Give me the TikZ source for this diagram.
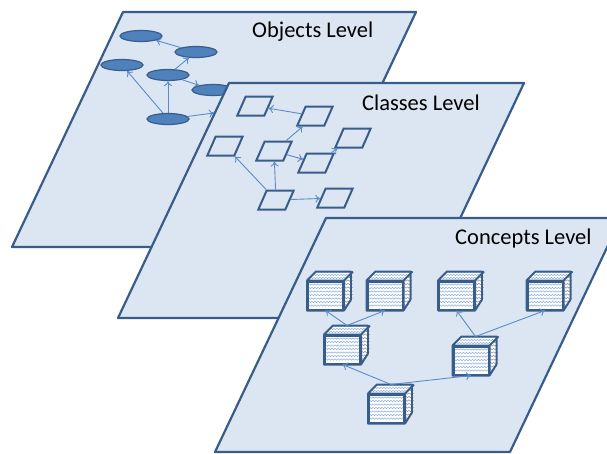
\documentclass[tikz,border=0pt]{standalone}
\usepackage{fontspec}
\setmainfont{Carlito}
\usetikzlibrary{shapes.geometric,arrows.meta,decorations.pathmorphing}
\definecolor{planefill}{HTML}{DCE6F2}
\definecolor{edgeblue}{HTML}{385D8A}
\definecolor{nodeblue}{HTML}{4F81BD}
\definecolor{linkblue}{HTML}{5B8BC9}
\definecolor{waveblue}{HTML}{8DB0DE}
\definecolor{wavegrey}{HTML}{8A96A3}

\begin{document}
\begin{tikzpicture}[x=1pt,y=-1pt,
plane/.style={draw=edgeblue,fill=planefill,line width=2.2pt,line join=round},
obj/.style={ellipse,draw=edgeblue,fill=nodeblue,line width=1.2pt,minimum width=42pt,minimum height=11pt,inner sep=0pt},
cls/.style={rectangle,xslant=0.44,transform shape,draw=edgeblue,fill=planefill,line width=2pt,minimum width=27pt,minimum height=19pt,inner sep=0pt},
wave/.style={line width=0.5pt,decorate,decoration={snake,amplitude=0.7pt,segment length=3pt}},
cube/.style={rectangle,draw=edgeblue,fill=white,line width=2pt,minimum width=35pt,minimum height=28pt,inner sep=0pt,
  path picture={\foreach \j in {1,...,7}
    \draw[wave,waveblue] ([yshift=-\j*3.5pt+0.5pt]path picture bounding box.north west) -- ([yshift=-\j*3.5pt+0.5pt]path picture bounding box.north east);}},
link/.style={-{To[length=5pt,width=8pt]},draw=linkblue,line width=0.9pt},
level/.style={font=\fontsize{22.5}{27}\selectfont,anchor=base west,inner sep=0pt}]
\clip (0,0) rectangle (607,453);

\draw[plane] (123,12) -- (416,12) -- (305,247) -- (12,247) -- cycle;
\node[level] (objlabel) at (252,37) {Objects Level};
\node[obj] (O1) at (141,36) {};
\node[obj] (O2) at (196,52) {};
\node[obj] (O3) at (122,65) {};
\node[obj] (O4) at (168,75) {};
\node[obj] (O5) at (213,90) {};
\node[obj] (O6) at (168,119) {};
\coordinate (O7) at (214,113);
\draw[link] (O2) -- (O1);
\draw[link] (O4) -- (O2);
\draw[link] (O4) -- (O5);
\draw[link] (O6) -- (O3);
\draw[link] (O6) -- (O4);
\draw[link] (O6) -- (O7);

\draw[plane] (229,83) -- (524,83) -- (413,318) -- (118,318) -- cycle;
\node[level] (clslabel) at (362,110) {Classes Level};
\node[cls] (K1) at (255,106) {};
\node[cls] (K2) at (315,116) {};
\node[cls] (K3) at (225,146) {};
\node[cls] (K4) at (274,151) {};
\node[cls] (K5) at (353,138) {};
\node[cls] (K6) at (316,163) {};
\node[cls] (K7) at (276,200) {};
\node[cls] (K8) at (335,198) {};
\draw[link] (K2) -- (K1);
\draw[link] (K4) -- (K2);
\draw[link] (K4) -- (K6);
\draw[link] (K6) -- (K5);
\draw[link] (K7) -- (K3);
\draw[link] (K7) -- (K4);
\draw[link] (K7) -- (K8);

\draw[plane] (326,218) -- (621,218) -- (510,452) -- (215,452) -- cycle;
\node[level] (cptlabel) at (455,244) {Concepts Level};
\node[cube] (C1) at (325.5,295.5) {};
\node[cube] (C2) at (385,295.5) {};
\node[cube] (C3) at (456.5,295.5) {};
\node[cube] (C4) at (545,295.5) {};
\node[cube] (C5) at (342.5,349.5) {};
\node[cube] (C6) at (471,360.5) {};
\node[cube] (C7) at (386.5,408.5) {};
\foreach \k in {1,...,7}{
  \begin{scope}
    \clip (C\k.north west) -- ++(9,-9) -- ++(35,0) -- (C\k.north east) -- cycle;
    \fill[white] (C\k.north west) rectangle ++(44,-9);
    \foreach \j in {2.5,5.5,8.5}
      \draw[wave,waveblue] ([yshift=\j pt]C\k.north west) -- ++(44,0);
  \end{scope}
  \begin{scope}
    \clip (C\k.north east) -- ++(9,-9) -- ++(0,28) -- (C\k.south east) -- cycle;
    \fill[white] (C\k.south east) rectangle ++(9,-37);
    \foreach \j in {-7,-3.5,...,27}
      \draw[wave,wavegrey] ([yshift=-\j pt]C\k.north east) -- ++(9,0);
  \end{scope}
  \draw[edgeblue,line width=2pt,line join=round] (C\k.north west) -- ++(9,-9) -- ++(35,0) -- ++(0,28) -- (C\k.south east)
    (C\k.north east) -- ++(9,-9) (C\k.north west) rectangle (C\k.south east);
}
\draw[link] ([xshift=4.5pt,yshift=9pt]C5.north) -- (C1.south);
\draw[link] ([xshift=4.5pt,yshift=9pt]C5.north) -- (C2.south);
\draw[link] ([xshift=4.5pt,yshift=9pt]C6.north) -- (C3.south);
\draw[link] ([xshift=4.5pt,yshift=9pt]C6.north) -- (C4.south);
\draw[link] ([xshift=4.5pt,yshift=9pt]C7.north) -- (C5.south);
\draw[link] ([xshift=4.5pt,yshift=9pt]C7.north) -- (C6.south);
\end{tikzpicture}
\end{document}
